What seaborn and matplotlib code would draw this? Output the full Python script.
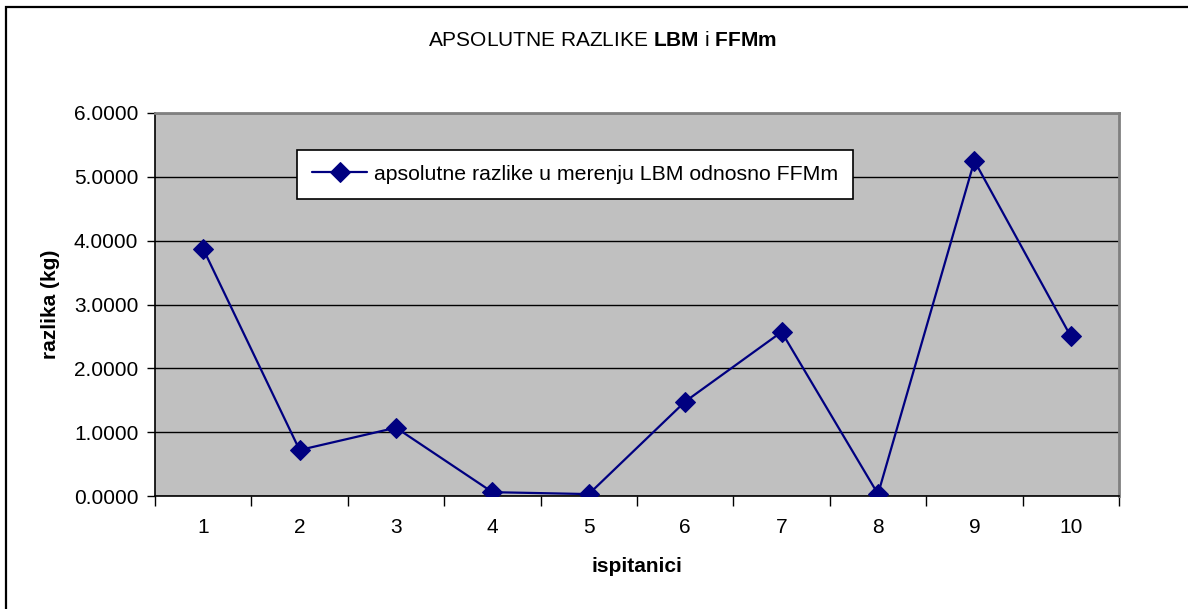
import matplotlib
matplotlib.use("Agg")
import matplotlib.pyplot as plt
from matplotlib.patches import Rectangle
from matplotlib.ticker import FixedLocator, FormatStrFormatter
import seaborn as sns
import pandas as pd
import numpy as np

# Measured absolute differences between LBM and FFMm per subject
ispitanici = [1, 2, 3, 4, 5, 6, 7, 8, 9, 10]
razlike = [3.87, 0.72, 1.07, 0.06, 0.03, 1.48, 2.57, 0.03, 5.25, 2.50]
y_ticks = [0, 1, 2, 3, 4, 5, 6]
series_label = "apsolutne razlike u merenju LBM odnosno FFMm"

df = pd.DataFrame({"ispitanici": ispitanici, "razlika": razlike})

sns.set_style("white")
plt.rcParams["font.family"] = ["Liberation Sans", "DejaVu Sans"]
plt.rcParams["text.color"] = "black"
plt.rcParams["axes.labelcolor"] = "black"
plt.rcParams["xtick.color"] = "black"
plt.rcParams["ytick.color"] = "black"
plt.rcParams["mathtext.fontset"] = "custom"
plt.rcParams["mathtext.rm"] = "Liberation Sans"
plt.rcParams["mathtext.bf"] = "Liberation Sans:bold"

fig = plt.figure(figsize=(11.88, 6.09), dpi=100)
fig.patch.set_facecolor("white")

W, H = 1188, 609
left, right, top, bottom = 155, 1119, 113, 496
ax = fig.add_axes([left / W, 1 - bottom / H, (right - left) / W, (bottom - top) / H])
ax.set_facecolor("#C0C0C0")

sns.lineplot(data=df, x="ispitanici", y="razlika", ax=ax, color="#000080",
             marker="D", markersize=10, markeredgecolor="#000080",
             linewidth=1.6, label=series_label, zorder=3)

ax.set_xlim(0.5, 10.5)
ax.set_ylim(0, 6)

# y axis: gridlines at each whole kg, four-decimal labels
ax.yaxis.set_major_locator(FixedLocator(y_ticks))
ax.yaxis.set_major_formatter(FormatStrFormatter("%.4f"))
ax.grid(axis="y", color="black", linewidth=1.0, zorder=1)
ax.set_axisbelow(True)

# x axis: labels at category centres, tick marks between categories
ax.set_xticks(ispitanici)
ax.set_xticklabels([str(i) for i in ispitanici])
ax.set_xticks(np.arange(0.5, 11, 1.0), minor=True)
ax.tick_params(axis="x", which="major", length=0, pad=16, labelsize=15,
               labelcolor="black")
ax.tick_params(axis="x", which="minor", length=7, width=1, color="black",
               direction="out", bottom=True)
ax.tick_params(axis="y", which="major", length=6, width=1, color="black",
               direction="out", left=True, pad=6, labelsize=15,
               labelcolor="black")

for side in ["left", "bottom"]:
    ax.spines[side].set_color("black")
    ax.spines[side].set_linewidth(1.2)
for side in ["top", "right"]:
    ax.spines[side].set_color("#808080")
    ax.spines[side].set_linewidth(2)

ax.set_xlabel("ispitanici", fontsize=15, fontweight="bold", labelpad=14,
              color="black")
ax.set_ylabel("razlika (kg)", fontsize=15, fontweight="bold", labelpad=10,
              color="black")

leg = ax.legend(loc="upper left", bbox_to_anchor=((297 - left) / (right - left),
                                                   (bottom - 150) / (bottom - top)),
                frameon=True, fancybox=False, framealpha=1, edgecolor="black",
                fontsize=15.3, borderpad=0.7, handlelength=2.6, handletextpad=0.3,
                borderaxespad=0)
leg.get_frame().set_linewidth(1.2)
for t in leg.get_texts():
    t.set_color("black")

fig.text(602 / W, 1 - 40 / H,
         r"APSOLUTNE RAZLIKE $\mathbf{LBM}$ i $\mathbf{FFMm}$",
         ha="center", va="center", fontsize=15, color="black")

# Chart frame around the whole figure
fig.patches.append(Rectangle((6 / W, -0.1), 1.2, 1 - 7 / H + 0.1,
                             transform=fig.transFigure, fill=False,
                             edgecolor="black", linewidth=1.6, zorder=0))

fig.savefig("out.png", dpi=100, facecolor="white")
